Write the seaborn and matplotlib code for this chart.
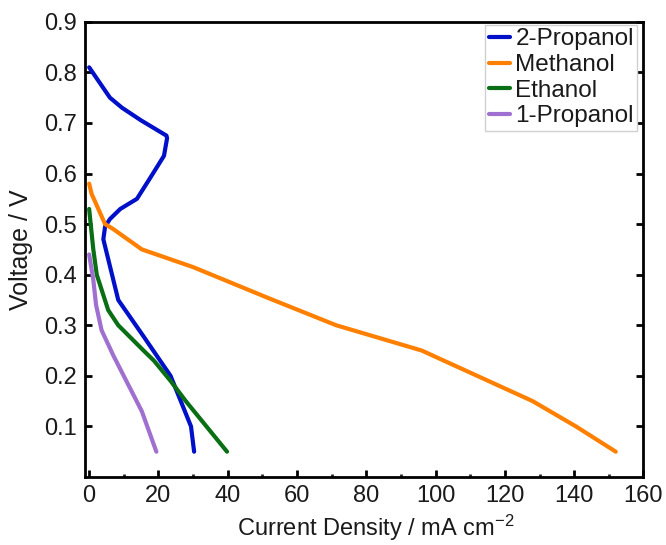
import matplotlib
matplotlib.use("Agg")
import matplotlib.pyplot as plt
from matplotlib.ticker import MultipleLocator
import seaborn as sns
import pandas as pd

# ---- data ----
series_names = ["2-Propanol", "Methanol", "Ethanol", "1-Propanol"]

prop2_x = [0.0, 6.0, 9.5, 15.0, 22.3, 22.5, 21.6, 17.5, 13.8, 9.0, 6.0, 4.6, 4.1, 8.4, 15.5, 23.5, 29.4, 30.3]
prop2_y = [0.81, 0.75, 0.73, 0.705, 0.675, 0.67, 0.635, 0.59, 0.55, 0.53, 0.51, 0.495, 0.47, 0.35, 0.28, 0.20, 0.10, 0.05]

meth_x = [0.0, 0.7, 4.6, 7.0, 15.2, 30.0, 52.0, 71.3, 96.0, 128.0, 140.5, 152.0]
meth_y = [0.58, 0.56, 0.50, 0.49, 0.45, 0.415, 0.353, 0.30, 0.25, 0.15, 0.10, 0.05]

eth_x = [0.0, 1.2, 2.2, 5.5, 8.4, 15.7, 18.7, 23.5, 27.9, 39.8]
eth_y = [0.53, 0.45, 0.40, 0.33, 0.30, 0.25, 0.23, 0.19, 0.15, 0.05]

prop1_x = [0.0, 1.2, 2.0, 3.6, 7.0, 15.2, 19.4]
prop1_y = [0.44, 0.39, 0.34, 0.29, 0.24, 0.13, 0.05]

x_ticks = [0, 20, 40, 60, 80, 100, 120, 140, 160]
y_ticks = [0.1, 0.2, 0.3, 0.4, 0.5, 0.6, 0.7, 0.8, 0.9]

colors = {"2-Propanol": "#0010C8", "Methanol": "#FF8000",
          "Ethanol": "#0A6E14", "1-Propanol": "#A070D0"}

frames = []
for name, xs, ys in [("2-Propanol", prop2_x, prop2_y), ("Methanol", meth_x, meth_y),
                     ("Ethanol", eth_x, eth_y), ("1-Propanol", prop1_x, prop1_y)]:
    frames.append(pd.DataFrame({"x": xs, "y": ys, "series": name,
                                "order": range(len(xs))}))
df = pd.concat(frames, ignore_index=True)

sns.set_style("ticks")
plt.rcParams["font.family"] = ["Liberation Sans", "DejaVu Sans"]
plt.rcParams["mathtext.fontset"] = "custom"
plt.rcParams["mathtext.rm"] = "Liberation Sans"
plt.rcParams["mathtext.it"] = "Liberation Sans:italic"

txt = "#1a1a1a"

fig = plt.figure(figsize=(6.66, 5.45), dpi=100)
ax = fig.add_axes([0.1276, 0.1248, 0.9662 - 0.1276, 0.960 - 0.1248])

sns.lineplot(data=df, x="x", y="y", hue="series", hue_order=series_names,
             palette=colors, sort=False, estimator=None, units="series",
             linewidth=3.0, ax=ax)

ax.set_xlim(-1.2, 160)
ax.set_ylim(0, 0.9)
ax.set_xticks(x_ticks)
ax.set_yticks(y_ticks)
ax.set_yticklabels([f"{v:.1f}" for v in y_ticks])
ax.xaxis.set_minor_locator(MultipleLocator(10))

for s in ax.spines.values():
    s.set_linewidth(2.0)
    s.set_color("black")
ax.tick_params(axis="both", which="major", direction="in", length=5, width=2,
               labelsize=17, right=True, top=False, colors="black",
               labelcolor=txt, pad=6)
ax.tick_params(axis="x", which="minor", direction="in", length=2.5, width=2)

ax.set_xlabel("Current Density / mA cm$^{-2}$", fontsize=17, color=txt)
ax.set_ylabel("Voltage / V", fontsize=18, color=txt)
ax.xaxis.set_label_coords(0.52, -0.079)
ax.yaxis.set_label_coords(-0.093, 0.5)

handles, labels = ax.get_legend_handles_labels()
leg = ax.legend(handles, labels, loc="upper right",
                bbox_to_anchor=(1 - 6 / 558, 1 - 3 / 455),
                fontsize=17.5, frameon=True,
                fancybox=False, edgecolor="#d0d0d0", framealpha=1,
                borderpad=0.15, labelspacing=0.15, handlelength=0.9,
                handletextpad=0.2, borderaxespad=0.0, labelcolor=txt)
for h in leg.get_lines():
    h.set_linewidth(3.0)

fig.savefig("out.png", dpi=100)
